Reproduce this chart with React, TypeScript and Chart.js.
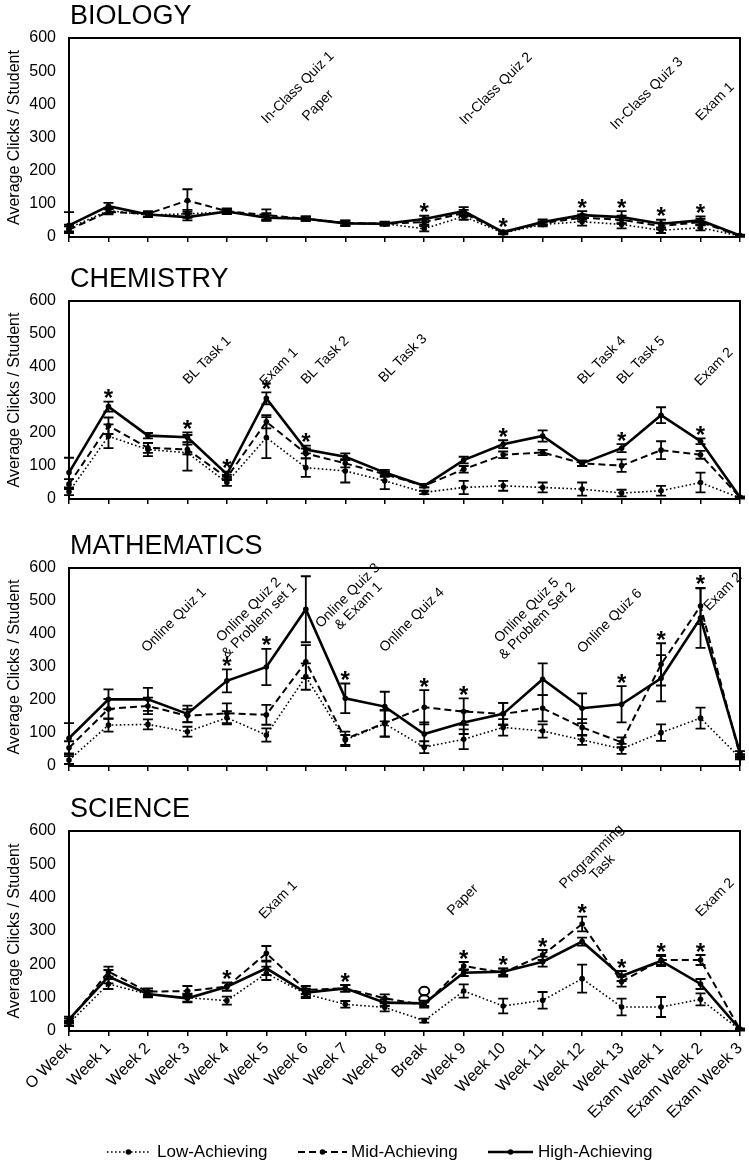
import React, { useEffect, useRef } from "react";
import { Chart, registerables } from "chart.js";

Chart.register(...registerables);

const FONT = "'Liberation Sans', Arial, Helvetica, sans-serif";
Chart.defaults.font.family = FONT;
Chart.defaults.color = "#000";

// ---------------- data ----------------
const weeks = [
  "O Week", "Week 1", "Week 2", "Week 3", "Week 4", "Week 5", "Week 6", "Week 7", "Week 8",
  "Break", "Week 9", "Week 10", "Week 11", "Week 12", "Week 13",
  "Exam Week 1", "Exam Week 2", "Exam Week 3",
];
const yTicks = [0, 100, 200, 300, 400, 500, 600];
const seriesNames = ["Low-Achieving", "Mid-Achieving", "High-Achieving"];

// Biology
const bioHigh = [35, 93, 68, 60, 77, 58, 55, 41, 40, 54, 78, 15, 45, 66, 60, 40, 50, 5];
const bioMid = [22, 76, 70, 110, 78, 66, 55, 42, 40, 45, 72, 14, 42, 58, 52, 33, 45, 3];
const bioLow = [27, 80, 66, 70, 75, 62, 56, 42, 40, 25, 62, 12, 38, 46, 38, 20, 28, 3];
const bioHighErr = [40, 10, 8, 10, 8, 8, 6, 8, 6, 10, 12, 4, 8, 12, 18, 12, 12, 2];
const bioMidErr = [10, 8, 8, 34, 8, 17, 6, 6, 5, 8, 10, 4, 6, 10, 12, 10, 10, 2];
const bioLowErr = [10, 8, 6, 12, 6, 10, 6, 8, 5, 8, 10, 4, 6, 12, 12, 8, 8, 2];
const bioStars = [9, 11, 13, 14, 15, 16];
const bioNotes = [
  { text: ["In-Class Quiz 1"], idx: 5.8, value: 450 },
  { text: ["Paper"], idx: 6.31, value: 396 },
  { text: ["In-Class Quiz 2"], idx: 10.82, value: 447 },
  { text: ["In-Class Quiz 3"], idx: 14.64, value: 432 },
  { text: ["Exam 1"], idx: 16.37, value: 408 },
];

// Chemistry
const chemHigh = [80, 280, 192, 187, 75, 305, 150, 128, 80, 40, 118, 166, 191, 108, 154, 254, 175, 5];
const chemMid = [45, 222, 155, 150, 65, 234, 138, 108, 75, 40, 90, 134, 141, 108, 101, 148, 134, 5];
const chemLow = [22, 190, 150, 140, 50, 186, 95, 85, 55, 20, 35, 40, 35, 30, 18, 25, 50, 3];
const chemHighErr = [45, 15, 8, 15, 8, 18, 12, 10, 8, 5, 10, 12, 17, 8, 12, 24, 9, 2];
const chemMidErr = [15, 25, 15, 15, 8, 20, 15, 12, 8, 5, 10, 10, 8, 8, 19, 27, 12, 2];
const chemLowErr = [10, 36, 20, 54, 10, 62, 28, 35, 25, 5, 20, 15, 15, 20, 10, 15, 30, 2];
const chemStars = [1, 3, 4, 5, 6, 11, 14, 16];
const chemNotes = [
  { text: ["BL Task 1"], idx: 3.5, value: 420 },
  { text: ["Exam 1"], idx: 5.32, value: 400 },
  { text: ["BL Task 2"], idx: 6.49, value: 420 },
  { text: ["BL Task 3"], idx: 8.46, value: 426 },
  { text: ["BL Task 4"], idx: 13.5, value: 420 },
  { text: ["BL Task 5"], idx: 14.49, value: 420 },
  { text: ["Exam 2"], idx: 16.34, value: 400 },
];

// Mathematics
const mathHigh = [84, 202, 202, 158, 258, 300, 475, 205, 180, 97, 132, 158, 263, 175, 187, 266, 448, 40];
const mathMid = [55, 173, 182, 152, 160, 155, 316, 82, 130, 178, 165, 158, 175, 117, 72, 308, 485, 30];
const mathLow = [18, 124, 126, 104, 146, 94, 271, 79, 128, 57, 81, 117, 106, 79, 52, 101, 145, 25];
const mathHighErr = [46, 30, 35, 25, 35, 55, 100, 45, 45, 35, 35, 33, 48, 45, 55, 70, 90, 5];
const mathMidErr = [20, 30, 25, 20, 30, 30, 50, 22, 40, 52, 40, 33, 40, 25, 15, 64, 55, 5];
const mathLowErr = [12, 20, 15, 15, 20, 20, 40, 15, 40, 18, 30, 25, 20, 15, 15, 25, 32, 5];
const mathStars = [4, 5, 7, 9, 10, 14, 15, 16];
const mathNotes = [
  { text: ["Online Quiz 1"], idx: 2.66, value: 442 },
  { text: ["Online Quiz 2", "& Problem set 1"], idx: 4.69, value: 457 },
  { text: ["Online Quiz 3", "& Exam 1"], idx: 7.2, value: 500 },
  { text: ["Online Quiz 4"], idx: 8.69, value: 442 },
  { text: ["Online Quiz 5", "& Problem Set 2"], idx: 11.73, value: 455 },
  { text: ["Online Quiz 6"], idx: 13.7, value: 439 },
  { text: ["Exam 2"], idx: 16.57, value: 528 },
];

// Science
const sciHigh = [35, 163, 111, 98, 133, 188, 115, 128, 85, 83, 175, 178, 208, 268, 165, 210, 141, 5];
const sciMid = [30, 178, 118, 120, 133, 233, 123, 128, 98, 78, 195, 175, 228, 321, 148, 213, 213, 5];
const sciLow = [23, 141, 110, 100, 91, 173, 111, 80, 71, 31, 120, 75, 92, 157, 72, 72, 95, 3];
const sciHighErr = [8, 20, 10, 12, 12, 20, 12, 10, 10, 8, 10, 10, 15, 12, 15, 15, 15, 2];
const sciMidErr = [8, 15, 10, 15, 12, 22, 12, 10, 12, 8, 12, 12, 15, 22, 15, 15, 15, 2];
const sciLowErr = [8, 15, 8, 12, 12, 20, 12, 10, 12, 6, 20, 22, 25, 42, 25, 30, 18, 2];
const sciStars = [4, 7, 10, 11, 12, 13, 14, 15, 16];
const sciCircles = [
  { idx: 9, value: 120 },
  { idx: 9, value: 95 },
];
const sciNotes = [
  { text: ["Exam 1"], idx: 5.3, value: 393 },
  { text: ["Paper"], idx: 9.98, value: 393 },
  { text: ["Programming", "Task"], idx: 13.38, value: 507 },
  { text: ["Exam 2"], idx: 16.37, value: 400 },
];

// ---------------- layout ----------------
type Note = { text: string[]; idx: number; value: number };
type Panel = {
  title: string;
  low: number[]; mid: number[]; high: number[];
  lowErr: number[]; midErr: number[]; highErr: number[];
  stars: number[];
  notes: Note[];
  circles?: { idx: number; value: number }[];
  pageTop: number;
  canvasH: number;
  plotTop: number;
  xH: number;
  showLabels: boolean;
  legend: boolean;
};

const panels: Panel[] = [
  {
    title: "BIOLOGY", low: bioLow, mid: bioMid, high: bioHigh,
    lowErr: bioLowErr, midErr: bioMidErr, highErr: bioHighErr,
    stars: bioStars, notes: bioNotes,
    pageTop: 0, canvasH: 247, plotTop: 38, xH: 10, showLabels: false, legend: false,
  },
  {
    title: "CHEMISTRY", low: chemLow, mid: chemMid, high: chemHigh,
    lowErr: chemLowErr, midErr: chemMidErr, highErr: chemHighErr,
    stars: chemStars, notes: chemNotes,
    pageTop: 263, canvasH: 246, plotTop: 38, xH: 10, showLabels: false, legend: false,
  },
  {
    title: "MATHEMATICS", low: mathLow, mid: mathMid, high: mathHigh,
    lowErr: mathLowErr, midErr: mathMidErr, highErr: mathHighErr,
    stars: mathStars, notes: mathNotes,
    pageTop: 530, canvasH: 246, plotTop: 38, xH: 10, showLabels: false, legend: false,
  },
  {
    title: "SCIENCE", low: sciLow, mid: sciMid, high: sciHigh,
    lowErr: sciLowErr, midErr: sciMidErr, highErr: sciHighErr,
    stars: sciStars, notes: sciNotes, circles: sciCircles,
    pageTop: 793, canvasH: 371, plotTop: 38, xH: 133, showLabels: true, legend: true,
  },
];

const styles = [
  { dash: [1.6, 2.4], width: 1.6 }, // low
  { dash: [7, 4], width: 2 }, // mid
  { dash: [] as number[], width: 2.6 }, // high
];

function makePlugin(p: Panel) {
  return {
    id: "panelDecor",
    afterDatasetsDraw(chart: any) {
      const { ctx, chartArea } = chart;
      const xs = chart.scales.x;
      const ys = chart.scales.y;
      const vals = [p.low, p.mid, p.high];
      const errs = [p.lowErr, p.midErr, p.highErr];
      ctx.save();
      // frame (top + right)
      ctx.strokeStyle = "#000";
      ctx.lineWidth = 2;
      ctx.setLineDash([]);
      ctx.beginPath();
      ctx.moveTo(chartArea.left - 1, chartArea.top);
      ctx.lineTo(chartArea.right, chartArea.top);
      ctx.lineTo(chartArea.right, chartArea.bottom);
      ctx.stroke();

      // error bars
      ctx.lineWidth = 1.8;
      for (let s = 0; s < 3; s++) {
        for (let i = 0; i < weeks.length; i++) {
          const v = vals[s][i];
          const e = errs[s][i];
          const x = xs.getPixelForValue(i);
          const yt = ys.getPixelForValue(v + e);
          const yb = ys.getPixelForValue(Math.max(0, v - e));
          ctx.beginPath();
          ctx.moveTo(x, yt);
          ctx.lineTo(x, yb);
          ctx.moveTo(x - 5, yt);
          ctx.lineTo(x + 5, yt);
          if (v - e > 0) {
            ctx.moveTo(x - 5, yb);
            ctx.lineTo(x + 5, yb);
          }
          ctx.stroke();
        }
      }

      // significance stars
      ctx.fillStyle = "#000";
      ctx.font = `bold 24px ${FONT}`;
      ctx.textAlign = "center";
      ctx.textBaseline = "alphabetic";
      for (const i of p.stars) {
        let top = 0;
        for (let s = 0; s < 3; s++) top = Math.max(top, vals[s][i] + errs[s][i]);
        const x = xs.getPixelForValue(i);
        const yc = ys.getPixelForValue(top) - 9;
        ctx.fillText("*", x, yc + 13.5);
      }

      // circles
      if (p.circles) {
        ctx.lineWidth = 2;
        for (const c of p.circles) {
          ctx.beginPath();
          ctx.ellipse(xs.getPixelForValue(c.idx), ys.getPixelForValue(c.value), 5, 4.2, 0, 0, Math.PI * 2);
          ctx.stroke();
        }
      }

      // notes
      ctx.font = `14px ${FONT}`;
      ctx.textBaseline = "middle";
      ctx.textAlign = "center";
      for (const n of p.notes) {
        const x = xs.getPixelForValue(n.idx);
        const y = ys.getPixelForValue(n.value);
        ctx.save();
        ctx.translate(x, y);
        ctx.rotate(-Math.PI / 4);
        const lh = 15;
        n.text.forEach((t, k) => {
          ctx.fillText(t, 0, (k - (n.text.length - 1) / 2) * lh);
        });
        ctx.restore();
      }

      // title
      ctx.font = `27px ${FONT}`;
      ctx.textAlign = "left";
      ctx.textBaseline = "alphabetic";
      ctx.fillText(p.title, 70, chartArea.top - 14);

      // legend
      if (p.legend) {
        const ly = chart.height - 12;
        const items = [
          { x0: 107, x1: 150, tx: 157 },
          { x0: 298, x1: 347, tx: 351 },
          { x0: 488, x1: 533, tx: 538 },
        ];
        items.forEach((it, k) => {
          ctx.lineWidth = styles[k].width;
          ctx.setLineDash(styles[k].dash);
          ctx.beginPath();
          ctx.moveTo(it.x0, ly);
          ctx.lineTo(it.x1, ly);
          ctx.stroke();
          ctx.setLineDash([]);
          ctx.beginPath();
          ctx.arc((it.x0 + it.x1) / 2, ly, 2.8, 0, Math.PI * 2);
          ctx.fill();
          ctx.font = `17px ${FONT}`;
          ctx.textBaseline = "middle";
          ctx.fillText(seriesNames[k], it.tx, ly);
        });
      }
      ctx.restore();
    },
  };
}

function buildConfig(p: Panel): any {
  const vals = [p.low, p.mid, p.high];
  return {
    type: "line",
    data: {
      labels: weeks,
      datasets: [2, 1, 0].map((k) => ({
        label: seriesNames[k],
        data: vals[k],
        borderColor: "#000",
        backgroundColor: "#000",
        borderWidth: styles[k].width,
        borderDash: styles[k].dash,
        pointRadius: 2.8,
        pointBackgroundColor: "#000",
        pointBorderWidth: 0,
        tension: 0,
        fill: false,
      })),
    },
    options: {
      responsive: false,
      animation: false,
      devicePixelRatio: 1,
      events: [],
      layout: { padding: { top: p.plotTop, right: 9, left: 0, bottom: 0 } },
      plugins: {
        legend: { display: false },
        tooltip: { enabled: false },
        title: { display: false },
      },
      scales: {
        x: {
          type: "category",
          offset: false,
          grid: {
            display: true,
            drawOnChartArea: false,
            drawTicks: true,
            tickLength: 5,
            color: "#000",
            lineWidth: 1.5,
          },
          border: { display: true, color: "#000", width: 2 },
          ticks: {
            display: p.showLabels,
            autoSkip: false,
            minRotation: 45,
            maxRotation: 45,
            padding: 3,
            color: "#000",
            font: { size: 16, family: FONT },
          },
          afterFit: (s: any) => {
            s.height = p.xH;
            s.paddingLeft = 0;
            s.paddingRight = 0;
          },
        },
        y: {
          min: 0,
          max: 600,
          grid: { display: false, drawTicks: false },
          border: { display: true, color: "#000", width: 2 },
          ticks: {
            padding: 13,
            color: "#000",
            font: { size: 16, family: FONT },
          },
          afterBuildTicks: (s: any) => {
            s.ticks = yTicks.map((v) => ({ value: v }));
          },
          title: {
            display: true,
            text: "Average Clicks / Student",
            color: "#000",
            font: { size: 16, family: FONT },
            padding: { top: 5, bottom: 0 },
          },
          afterFit: (s: any) => {
            s.width = 69;
            s.paddingTop = 0;
            s.paddingBottom = 0;
          },
        },
      },
    },
    plugins: [makePlugin(p)],
  };
}

function PanelChart({ panel }: { panel: Panel }) {
  const ref = useRef<HTMLCanvasElement>(null);
  useEffect(() => {
    if (!ref.current) return;
    const chart = new Chart(ref.current, buildConfig(panel));
    return () => chart.destroy();
  }, [panel]);
  return (
    <canvas
      ref={ref}
      width={749}
      height={panel.canvasH}
      style={{ position: "absolute", left: 0, top: panel.pageTop, width: 749, height: panel.canvasH }}
    />
  );
}

export default function App() {
  return (
    <div style={{ position: "absolute", left: 0, top: 0, width: 749, height: 1164, background: "#fff" }}>
      {panels.map((p) => (
        <PanelChart key={p.title} panel={p} />
      ))}
    </div>
  );
}
